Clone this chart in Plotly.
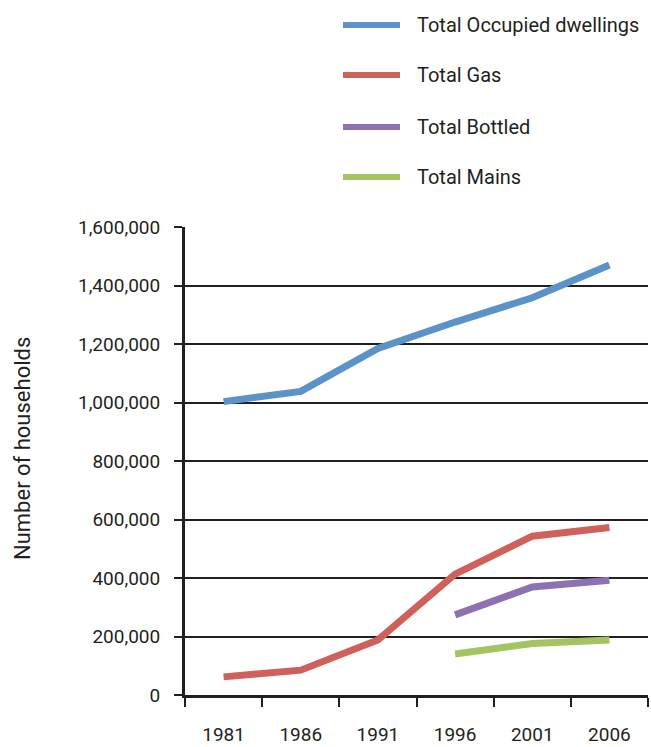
import plotly.graph_objects as go

# Census years and household counts
years = ["1981", "1986", "1991", "1996", "2001", "2006"]
occupied = [1003000, 1038000, 1185000, 1275000, 1358000, 1470000]
total_gas = [62000, 85000, 188000, 413000, 543000, 573000]
bottled = [None, None, None, 274000, 369000, 392000]
mains = [None, None, None, 140000, 176000, 188000]

series_names = ["Total Occupied dwellings", "Total Gas", "Total Bottled", "Total Mains"]
series_values = [occupied, total_gas, bottled, mains]
series_colors = ["#5b93c9", "#d0605a", "#8c72b0", "#a4c462"]

y_ticks = [0, 200000, 400000, 600000, 800000, 1000000, 1200000, 1400000, 1600000]

FONT = "Roboto, sans-serif"
INK = "#231f20"

fig = go.Figure()
for name, vals, col in zip(series_names, series_values, series_colors):
    fig.add_trace(go.Scatter(
        x=years, y=vals, name=name, mode="lines",
        line=dict(color=col, width=7),
        connectgaps=False, showlegend=False,
    ))

# Legend drawn as line samples with labels above the plot
legend_y = [25, 75, 127, 177]
for name, col, yy in zip(series_names, series_colors, legend_y):
    fig.add_shape(type="line", xref="paper", yref="paper",
                  x0=(343 - 185) / 463, x1=(400 - 185) / 463,
                  y0=(695 - yy) / 468, y1=(695 - yy) / 468,
                  line=dict(color=col, width=6))
    fig.add_annotation(xref="paper", yref="paper",
                       x=(415 - 185) / 463, y=(695 - yy) / 468,
                       text=name, showarrow=False, xanchor="left", yanchor="middle",
                       font=dict(family=FONT, size=20, color=INK))

# Vertical axis title
fig.add_annotation(xref="paper", yref="paper",
                   x=(22 - 185) / 463, y=(695 - 449) / 468,
                   text="Number of households", textangle=-90, showarrow=False,
                   xanchor="center", yanchor="middle",
                   font=dict(family=FONT, size=22, color=INK))

fig.update_layout(
    width=651, height=747,
    margin=dict(l=185, r=3, t=227, b=52),
    paper_bgcolor="white", plot_bgcolor="white",
    font=dict(family=FONT, size=19, color=INK),
    xaxis=dict(
        type="category", tickson="boundaries",
        range=[-0.5, len(years) - 0.5],
        showline=True, linecolor=INK, linewidth=3,
        ticks="outside", ticklen=9, tickwidth=2, tickcolor=INK,
        showgrid=False, zeroline=False,
        ticklabelstandoff=20, automargin=False,
        tickfont=dict(family=FONT, size=19, color=INK),
    ),
    yaxis=dict(
        range=[0, 1600000], tickvals=y_ticks,
        tickformat=",d",
        showline=True, linecolor=INK, linewidth=3,
        ticks="outside", ticklen=8, tickwidth=2, tickcolor=INK,
        showgrid=True, gridcolor=INK, gridwidth=2,
        zeroline=False, automargin=False,
        ticklabelstandoff=10,
        tickfont=dict(family=FONT, size=19, color=INK),
    ),
)

fig.write_html("out.html")
